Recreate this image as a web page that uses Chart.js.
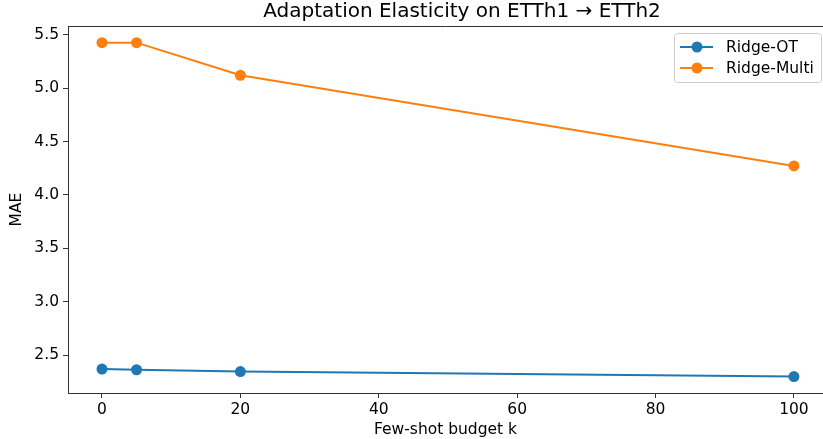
<!DOCTYPE html>
<html>
<head>
<meta charset="utf-8">
<script src="https://cdn.jsdelivr.net/npm/chart.js@4/dist/chart.umd.min.js"></script>
<style>
  body { margin: 0; background: #fff; }
  #wrap { width: 823px; height: 439px; }
</style>
</head>
<body>
<div id="wrap"><canvas id="myChart" width="823" height="439"></canvas></div>
<script>
// few-shot budgets and MAE per method
var budgets = [0, 5, 20, 100];
var ridgeOT = [2.368, 2.362, 2.345, 2.298];
var ridgeMulti = [5.428, 5.428, 5.122, 4.272];
var xTicks = [0, 20, 40, 60, 80, 100];
var yTicks = [2.5, 3.0, 3.5, 4.0, 4.5, 5.0, 5.5];

var font = "'DejaVu Sans', sans-serif";
var fs = 15.5;

function points(vals) {
  return budgets.map((b, i) => ({ x: b, y: vals[i] }));
}

// title, top spine and the legend box, matplotlib style
var decor = {
  id: "decor",
  afterDraw(chart) {
    var ctx = chart.ctx;
    var a = chart.chartArea;
    ctx.save();
    ctx.strokeStyle = "#333";
    ctx.lineWidth = 1;
    ctx.beginPath();
    ctx.moveTo(a.left, a.top + 0.5);
    ctx.lineTo(a.right, a.top + 0.5);
    ctx.stroke();

    ctx.fillStyle = "#000";
    ctx.font = "20px " + font;
    ctx.textAlign = "center";
    ctx.textBaseline = "middle";
    ctx.fillText("Adaptation Elasticity on ETTh1 \u2192 ETTh2", 462, 12);

    // legend
    var bx = 674, by = 33, bw = 147, bh = 49;
    ctx.fillStyle = "rgba(255,255,255,0.8)";
    ctx.strokeStyle = "#ccc";
    ctx.beginPath();
    ctx.roundRect(bx + 0.5, by + 0.5, bw, bh, 3);
    ctx.fill();
    ctx.stroke();
    ctx.font = fs + "px " + font;
    ctx.textAlign = "left";
    chart.data.datasets.forEach((ds, i) => {
      var y = by + 14 + i * 21;
      ctx.strokeStyle = ds.borderColor;
      ctx.lineWidth = 2;
      ctx.beginPath();
      ctx.moveTo(bx + 6, y);
      ctx.lineTo(bx + 39, y);
      ctx.stroke();
      ctx.fillStyle = ds.borderColor;
      ctx.beginPath();
      ctx.arc(bx + 23, y, 5.5, 0, Math.PI * 2);
      ctx.fill();
      ctx.fillStyle = "#000";
      ctx.fillText(ds.label, bx + 52, y + 1);
    });
    ctx.restore();
  }
};

var ctx = document.getElementById("myChart").getContext("2d");
var chart = new Chart(ctx, {
  type: "line",
  data: {
    datasets: [
      {
        label: "Ridge-OT",
        data: points(ridgeOT),
        borderColor: "#1f77b4",
        backgroundColor: "#1f77b4",
        borderWidth: 2,
        pointRadius: 5.5,
        pointHoverRadius: 5.5,
        pointBorderWidth: 0
      },
      {
        label: "Ridge-Multi",
        data: points(ridgeMulti),
        borderColor: "#ff7f0e",
        backgroundColor: "#ff7f0e",
        borderWidth: 2,
        pointRadius: 5.5,
        pointHoverRadius: 5.5,
        pointBorderWidth: 0
      }
    ]
  },
  options: {
    responsive: false,
    animation: false,
    layout: { autoPadding: false, padding: { top: 26, right: 0, left: 0, bottom: 0 } },
    plugins: { legend: { display: false }, tooltip: { enabled: false } },
    scales: {
      x: {
        type: "linear",
        min: -4.91,
        max: 104.2,
        afterBuildTicks: s => { s.ticks = xTicks.map(v => ({ value: v })); },
        afterFit: s => { s.height = 46; s.paddingRight = 0; s.paddingLeft = 0; },
        grid: { drawOnChartArea: false, tickLength: 5, color: "#333" },
        border: { color: "#333", width: 1 },
        ticks: { color: "#000", font: { family: font, size: fs }, padding: 3, maxRotation: 0 },
        title: { display: true, text: "Few-shot budget k", color: "#000", font: { family: font, size: fs }, padding: { top: 1, bottom: 0 } }
      },
      y: {
        min: 2.144,
        max: 5.584,
        afterBuildTicks: s => { s.ticks = yTicks.map(v => ({ value: v })); },
        afterFit: s => { s.width = 68; s.paddingTop = 0; s.paddingBottom = 0; },
        grid: { drawOnChartArea: false, tickLength: 5, color: "#333" },
        border: { color: "#333", width: 1 },
        ticks: { color: "#000", font: { family: font, size: fs }, padding: 4, callback: v => v.toFixed(1) },
        title: { display: true, text: "MAE", color: "#000", font: { family: font, size: fs }, padding: { top: 8, bottom: 4 } }
      }
    }
  },
  plugins: [decor]
});
</script>
</body>
</html>
